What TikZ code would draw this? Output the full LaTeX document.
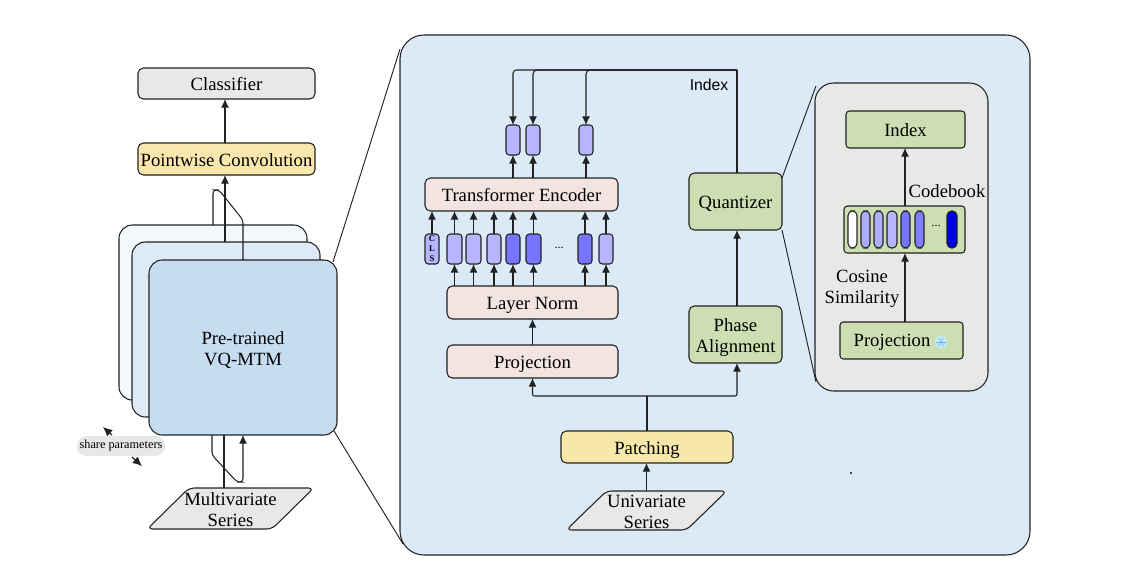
\documentclass[tikz,border=0pt]{standalone}
\usepackage{fontspec}
\setmainfont{Liberation Serif}
\setsansfont{Liberation Sans}
\usetikzlibrary{arrows.meta,shapes.geometric}
\definecolor{cgray}{HTML}{E6E9E5}
\definecolor{cyel}{HTML}{FAE7AE}
\definecolor{cpat}{HTML}{F5E8A9}
\definecolor{cpink}{HTML}{F2E4E0}
\definecolor{cgreen}{HTML}{CDDFB2}
\definecolor{cpanel}{HTML}{DCE9F7}
\definecolor{cs1}{HTML}{F3F8FD}
\definecolor{cs2}{HTML}{DEEAF5}
\definecolor{cs3}{HTML}{C6DDF1}
\definecolor{tl}{HTML}{B6B6FF}
\definecolor{td}{HTML}{7575FF}
\definecolor{tb}{HTML}{0000E6}
\definecolor{lnc}{HTML}{222222}
\tikzset{
  x=0.75pt,y=-0.75pt,
  base/.style={draw=lnc,line width=0.8pt,rounded corners=4pt,inner sep=0pt,outer sep=0pt,align=center,font=\fontsize{14}{15.75}\selectfont},
  sl/.style={text height=10.8pt,text depth=0pt},
  grayb/.style={base,fill=cgray},
  yelb/.style={base,sl,fill=cyel},
  patb/.style={base,sl,fill=cpat},
  pinkb/.style={base,sl,fill=cpink},
  greenb/.style={base,sl,fill=cgreen},
  stackb/.style={base,rounded corners=10pt},
  tok/.style={base,rounded corners=2.5pt,fill=tl},
  tokd/.style={base,rounded corners=2.5pt,fill=td},
  pill/.style={base,rounded corners=3.4pt},
  arr/.style={draw=lnc,line width=0.8pt,-{Latex[length=6.5pt,width=6pt]}},
  lin/.style={draw=lnc,line width=0.8pt},
  bigarr/.style={draw=lnc,line width=0.9pt,-{Latex[length=7pt,width=6.5pt]}},
  zoomline/.style={draw=lnc,line width=0.7pt},
  para/.style={grayb,shape=trapezium,trapezium stretches=true,rounded corners=4pt},
  lab/.style={inner sep=0pt,font=\fontsize{14}{15.75}\selectfont,align=center},
  dotlab/.style={inner sep=0pt,font=\fontsize{9}{10}\selectfont},
}
\newcommand{\rb}[7]{%
  \pgfmathsetmacro\wid{(#4-#2)*0.75}\pgfmathsetmacro\hei{(#5-#3)*0.75}%
  \node[#6,minimum width=\wid pt,minimum height=\hei pt] (#1) at ({(#2+#4)/2},{(#3+#5)/2}) {#7};}
\begin{document}
\begin{tikzpicture}
\useasboundingbox (0,0) rectangle (1148,576);
\fill[white] (0,0) rectangle (1148,576);
% left column
\rb{cls}{138}{68}{315}{99}{grayb,sl}{Classifier}
\rb{conv}{138}{143}{315}{175}{yelb}{Pointwise Convolution}
\draw[arr] (225,0 |- conv.north) -- (225,0 |- cls.south);
\rb{back}{119}{225}{307}{400}{stackb,fill=cs1}{}
\rb{mid}{132}{242}{320}{417}{stackb,fill=cs2}{}
\rb{front}{149}{260}{337}{435}{stackb,fill=cs3}{}
\node[lab] (frontt) at (243,350.5) {Pre-trained\\VQ-MTM};
\draw[arr] (225,0 |- mid.north) -- (225,0 |- conv.south);
\draw[lin,rounded corners=2.5pt] (213,0 |- back.north) -- (213,190) -- (219,190) -- (243,220) -- (243,0 |- front.north);
\node[para,trapezium left angle=55.7,trapezium right angle=124.3,minimum width=125pt,minimum height=30.75pt] (mv) at (230.5,508.5) {\phantom{M}};
\node[lab] (mvt) at (230.5,509.5) {Multivariate\\Series};
\draw[lin] (224,0 |- front.south) -- (224,0 |- mv.north);
\draw[arr,rounded corners=2.5pt] (212,0 |- front.south) -- (212,455) -- (237,482) -- (243,482) -- (243,0 |- front.south);
\node[fill=cgray,rounded corners=7pt,inner sep=0pt,minimum width=66pt,minimum height=15pt,font=\fontsize{9.2}{10}\selectfont] (share) at (121,446) {share parameters};
\coordinate (s1) at (103,427);
\coordinate (s2) at (142,466);
\draw[bigarr] (112,435) -- (s1);
\draw[bigarr] (132,457) -- (s2);
% main panel
\rb{panel}{400}{35}{1030}{555}{base,rounded corners=18pt,fill=cpanel}{}
\draw[zoomline] (333,262) -- (400,49);
\draw[zoomline] (334,431) -- (403,544);
% inner-left stack
\rb{te}{425}{178}{618}{211}{pinkb}{Transformer Encoder}
\rb{ln}{447}{286}{618}{319}{pinkb}{Layer Norm}
\rb{pr}{447}{345}{618}{378}{pinkb}{Projection}
\draw[arr] (pr.north) -- (ln.south);
% upper tokens
\rb{u1}{506}{125}{520}{155}{tok}{}
\rb{u2}{526}{125}{540}{155}{tok}{}
\rb{u3}{579}{125}{593}{155}{tok}{}
\foreach \n in {u1,u2,u3}{\draw[arr] (\n.center |- te.north) -- (\n.south);}
% lower tokens
\rb{cl}{425}{234}{439}{264}{tok,font=\fontsize{6.5}{7.6}\selectfont\bfseries}{C\\L\\S}
\rb{l1}{447}{234}{462}{264}{tok}{}
\rb{l2}{466}{234}{481}{264}{tok}{}
\rb{l3}{487}{234}{501}{264}{tok}{}
\rb{l4}{506}{234}{520}{264}{tokd}{}
\rb{l5}{526}{234}{541}{264}{tokd}{}
\rb{l6}{578}{234}{592}{264}{tokd}{}
\rb{l7}{599}{234}{613}{264}{tok}{}
\foreach \n in {cl,l1,l2,l3,l4,l5,l6,l7}{\draw[arr] (\n.north) -- (\n.center |- te.south);}
\foreach \n in {l1,l2,l3,l4,l5,l6,l7}{\draw[arr] (\n.center |- ln.north) -- (\n.south);}
\node[dotlab] (dots1) at (559,248) {...};
% zoom lines to the right panel run behind the boxes
\coordinate (zt) at (816,86);
\coordinate (zb) at (816,382);
\draw[zoomline] (782,178) -- (zt);
\draw[zoomline] (782,230) -- (zb);
% quantizer side
\rb{qu}{689}{173}{782}{230}{greenb}{Quantizer}
\rb{pa}{689}{306}{782}{363}{base,fill=cgreen}{}
\node[lab] (pat2) at (735.5,337.5) {Phase\\Alignment};
\draw[arr] (737,0 |- pa.north) -- (737,0 |- qu.south);
\rb{pat}{561}{431}{733}{463}{patb}{Patching}
\node[para,trapezium left angle=55.7,trapezium right angle=124.3,minimum width=120.5pt,minimum height=29.25pt] (uv) at (646.5,510.5) {\phantom{M}};
\node[lab] (uvt) at (646.5,511.5) {Univariate\\Series};
\draw[arr] (uv.north) -- (uv.north |- pat.south);
\coordinate (split) at (647,396);
\draw[lin] (split |- pat.north) -- (split);
\draw[arr,rounded corners=1.5pt] (split) -- (pr.south |- split) -- (pr.south);
\draw[arr,rounded corners=1.5pt] (split) -- (737,396) -- (737,0 |- pa.south);
% index line
\coordinate (topr) at (737,70);
\draw[lin] (737,0 |- qu.north) -- (topr);
\draw[arr,rounded corners=2.5pt] (topr) -- (513,70) -- (513,0 |- u1.north);
\draw[arr,rounded corners=3pt] (topr) -- (533,70) -- (533,0 |- u2.north);
\draw[arr,rounded corners=3pt] (topr) -- (586,70) -- (586,0 |- u3.north);
\node[lab,font=\sffamily\fontsize{11.8}{13}\selectfont] (idxl) at (709,85) {Index};
\node[inner sep=0.35pt,fill=black!70] (dot) at (851,473) {};
% right panel
\rb{rp}{815}{83}{988}{391}{base,rounded corners=14pt,fill=cgray}{}
\rb{ix}{846}{111}{965}{148}{greenb,rounded corners=2.5pt}{Index}
\rb{cb}{844}{206}{965}{253}{greenb,rounded corners=2.5pt}{}
\rb{pj}{840}{322}{963}{359}{base,fill=cgreen,rounded corners=2.5pt}{}
\node[lab,anchor=center] (pjt) at (892,342) {Projection};
\rb{p0}{848}{211}{857}{248}{pill,fill=white}{}
\rb{p1}{861}{211}{870}{248}{pill,fill=tl!85!td}{}
\rb{p2}{874}{211}{883}{248}{pill,fill=tl!90!td}{}
\rb{p3}{887}{211}{897}{248}{pill,fill=tl}{}
\rb{p4}{901}{211}{910}{248}{pill,fill=td}{}
\rb{p5}{915}{211}{924}{248}{pill,fill=td!85!tl}{}
\rb{p6}{947}{211}{957}{248}{pill,fill=tb}{}
\node[dotlab] (dots2) at (936,226) {...};
\draw[arr] (905,0 |- cb.north) -- (905,0 |- ix.south);
\draw[arr] (905,0 |- pj.north) -- (905,0 |- cb.south);
\node[lab] (cbl) at (947,191) {Codebook};
\node[lab] (cos) at (862,289) {Cosine\\Similarity};
% snowflake icon
\coordinate (sn) at (941,342);
\fill[cyan!25!white] (sn) circle (4.6pt);
\foreach \a in {0,60,120}{\draw[cyan!60!blue!55!white,line width=0.35pt] ([shift={(\a:5)}]sn) -- ([shift={(\a+180:5)}]sn);}
\end{tikzpicture}
\end{document}
